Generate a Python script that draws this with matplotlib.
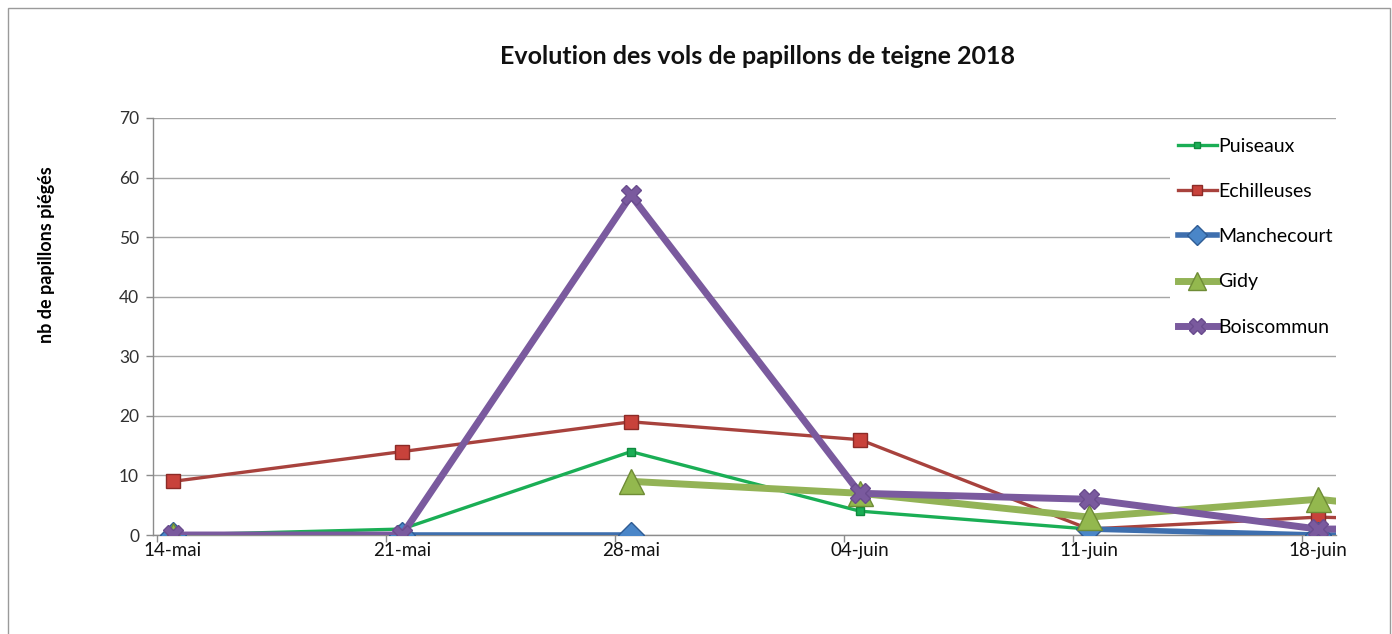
import numpy as np
import matplotlib
matplotlib.use("Agg")
import matplotlib.pyplot as plt
from matplotlib.lines import Line2D
from matplotlib.patches import Rectangle

# ---- data ----
dates = ["14-mai", "21-mai", "28-mai", "04-juin", "11-juin", "18-juin", "25-juin"]
day_offsets = [0, 7, 14, 21, 28, 35, 42]
puiseaux = [0, 1, 14, 4, 1, 0, 0]
echilleuses = [9, 14, 19, 16, 1, 3, 2]
manchecourt = [0, 0, 0, np.nan, 1, 0, 0]
gidy = [0, np.nan, 9, 7, 3, 6, 2]
boiscommun = [0, 0, 57, 7, 6, 1, 1]
y_ticks = [0, 10, 20, 30, 40, 50, 60, 70]

FONT = ["Lato", "DejaVu Sans"]
plt.rcParams["font.family"] = FONT

W, H = 1392, 634
fig = plt.figure(figsize=(W / 100, H / 100), dpi=100)
fig.patch.set_facecolor("white")

# outer chart border
fig.add_artist(Rectangle((8 / W, -0.1), (W - 10) / W, (H - 8) / H + 0.1,
                         transform=fig.transFigure, fill=False,
                         edgecolor="#9a9a9a", lw=1.0))

left, right, top, bottom = 153, 1336, 118, 535
ax = fig.add_axes([left / W, (H - bottom) / H, (right - left) / W, (bottom - top) / H])

x = np.array(day_offsets, dtype=float) + 0.5

series = [
    ("Puiseaux", puiseaux, "#1aae55", 2.4, "s", 6, "#1aae55", "#0f8a3e"),
    ("Echilleuses", echilleuses, "#a8423d", 2.4, "s", 10, "#c8423b", "#8c2b27"),
    ("Manchecourt", manchecourt, "#3e6fae", 4.0, "D", 13, "#4a86c8", "#2f5c94"),
    ("Gidy", gidy, "#93b356", 5.0, "^", 18, "#93b84e", "#6f8c36"),
    ("Boiscommun", boiscommun, "#7a5a9e", 5.0, "X", 15, "#7a5a9e", "#6a4c8e"),
]

handles = []
for name, vals, col, lw, mk, ms, mfc, mec in series:
    ax.plot(x, vals, color=col, lw=lw, marker=mk, markersize=ms,
            markerfacecolor=mfc, markeredgecolor=mec, markeredgewidth=1.0,
            solid_capstyle="butt", clip_on=True, zorder=3)
    handles.append(Line2D([0], [0], color=col, lw=lw, marker=mk,
                          markersize=ms * 0.75, markerfacecolor=mfc,
                          markeredgecolor=mec, label=name))

ax.set_xlim(-0.11, 36.05)
ax.set_ylim(0, 70)

ax.set_yticks(y_ticks)
ax.set_yticklabels([str(v) for v in y_ticks], fontsize=12.5, color="#303030")
ax.yaxis.grid(True, color="#a6a6a6", lw=1.0)
ax.set_axisbelow(True)

# x axis: labels at data points, small tick marks at date starts
ax.set_xticks(x[:6])
ax.set_xticklabels(dates[:6], fontsize=13.5, color="#111111")
ax.tick_params(axis="x", which="major", length=0, pad=5)
ax.set_xticks(np.array(day_offsets[:6], dtype=float), minor=True)
ax.tick_params(axis="x", which="minor", length=5, color="#8c8c8c", width=1)
ax.tick_params(axis="y", length=5, color="#8c8c8c", width=1, pad=5)

for s in ["top", "right"]:
    ax.spines[s].set_visible(False)
for s in ["left", "bottom"]:
    ax.spines[s].set_color("#8c8c8c")
    ax.spines[s].set_linewidth(1.0)

ax.set_ylabel("nb de papillons piégés", fontsize=13, fontweight="bold")
ax.yaxis.set_label_coords((55 - left) / (right - left), (535 - 255) / (bottom - top))

fig.text(757 / W, 1 - 57 / H, "Evolution des vols de papillons de teigne 2018",
         ha="center", va="center", fontsize=18, fontweight="bold", color="#111111")

leg = ax.legend(handles=handles, loc="upper left",
                bbox_to_anchor=((1170 - left) / (right - left), 1 - (130 - top) / (bottom - top)),
                frameon=True, facecolor="white", edgecolor="none", framealpha=1.0,
                fancybox=False, fontsize=14, handlelength=2.0,
                handletextpad=0.1, labelspacing=1.45, borderaxespad=0)
leg.set_zorder(5)

fig.savefig("out.png", dpi=100, facecolor="white")
